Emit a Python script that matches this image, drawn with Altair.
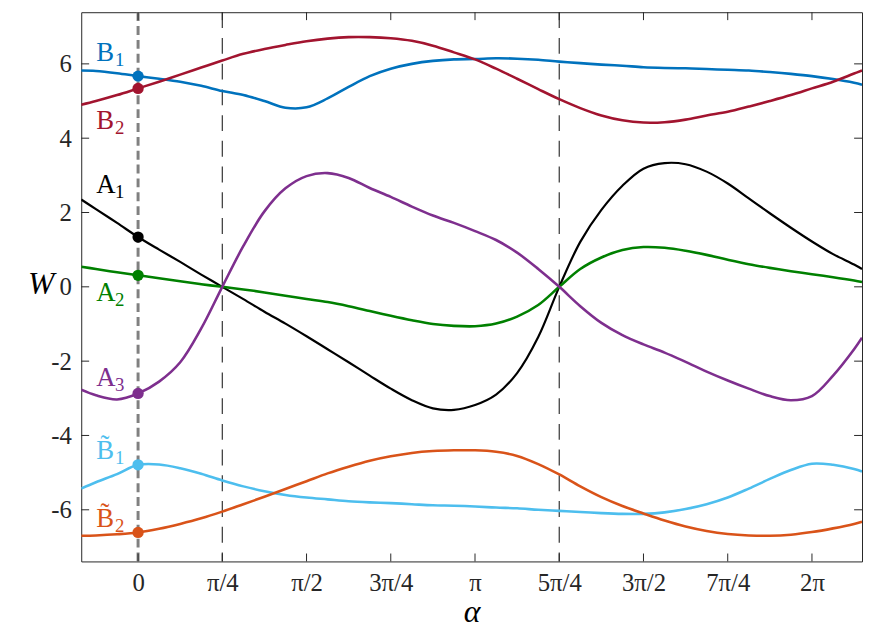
import altair as alt
import pandas as pd
import math

PI = math.pi

# x positions (radians) at which the curves were read
alpha = [-0.53, -0.393, -0.196, 0.0, 0.196, 0.393, 0.589, 0.785, 0.982, 1.178, 1.374,
         1.571, 1.767, 1.963, 2.160, 2.356, 2.553, 2.749, 2.945, 3.142, 3.338, 3.534,
         3.731, 3.927, 4.123, 4.320, 4.516, 4.712, 4.909, 5.105, 5.301, 5.498, 5.694,
         5.890, 6.087, 6.283, 6.480, 6.676, 6.75]

B1 = [5.82, 5.81, 5.75, 5.67, 5.60, 5.52, 5.41, 5.27, 5.16, 5.00, 4.82, 4.83, 5.07,
      5.38, 5.67, 5.87, 6.00, 6.08, 6.12, 6.13, 6.15, 6.14, 6.11, 6.06, 6.02, 5.98,
      5.95, 5.91, 5.89, 5.88, 5.86, 5.84, 5.82, 5.78, 5.73, 5.67, 5.59, 5.49, 5.44]
B2 = [4.90, 5.00, 5.16, 5.34, 5.52, 5.71, 5.90, 6.09, 6.27, 6.40, 6.51, 6.61, 6.68,
      6.72, 6.72, 6.69, 6.62, 6.49, 6.31, 6.12, 5.87, 5.60, 5.32, 5.05, 4.81, 4.61,
      4.48, 4.42, 4.43, 4.50, 4.61, 4.71, 4.85, 5.00, 5.16, 5.34, 5.52, 5.74, 5.82]
A1 = [2.35, 2.09, 1.72, 1.34, 1.00, 0.67, 0.33, 0.00, -0.33, -0.67, -0.99, -1.33, -1.68,
      -2.03, -2.39, -2.74, -3.05, -3.27, -3.31, -3.18, -2.90, -2.32, -1.35, 0.00, 1.21,
      2.07, 2.72, 3.18, 3.33, 3.30, 3.10, 2.78, 2.38, 1.98, 1.59, 1.22, 0.88, 0.60, 0.48]
A2 = [0.54, 0.48, 0.39, 0.31, 0.23, 0.15, 0.07, 0.00, -0.07, -0.15, -0.24, -0.33, -0.41,
      -0.52, -0.65, -0.78, -0.90, -1.00, -1.05, -1.06, -0.99, -0.80, -0.49, 0.00, 0.48,
      0.79, 0.99, 1.07, 1.05, 0.97, 0.86, 0.73, 0.61, 0.51, 0.42, 0.34, 0.26, 0.17, 0.13]
A3 = [-2.77, -2.92, -3.03, -2.87, -2.55, -2.03, -1.12, 0.00, 1.10, 2.03, 2.65, 2.98, 3.06,
      2.93, 2.66, 2.42, 2.16, 1.92, 1.72, 1.50, 1.26, 0.92, 0.48, 0.00, -0.52, -0.97,
      -1.30, -1.55, -1.77, -2.02, -2.28, -2.52, -2.74, -2.94, -3.05, -2.94, -2.39, -1.68, -1.37]
Bt1 = [-5.43, -5.26, -5.04, -4.79, -4.78, -4.88, -5.03, -5.21, -5.37, -5.50, -5.60, -5.67,
       -5.72, -5.77, -5.80, -5.82, -5.85, -5.88, -5.89, -5.91, -5.94, -5.96, -6.00, -6.03,
       -6.06, -6.09, -6.11, -6.11, -6.07, -5.98, -5.85, -5.67, -5.43, -5.17, -4.93, -4.76,
       -4.79, -4.90, -4.97]
Bt2 = [-6.70, -6.69, -6.66, -6.61, -6.51, -6.38, -6.23, -6.05, -5.85, -5.65, -5.44, -5.23,
       -5.02, -4.84, -4.68, -4.56, -4.47, -4.42, -4.40, -4.40, -4.44, -4.55, -4.77, -5.05,
       -5.37, -5.66, -5.90, -6.10, -6.29, -6.45, -6.57, -6.65, -6.69, -6.70, -6.67, -6.60,
       -6.50, -6.38, -6.32]

series_names = ["B1", "B2", "A1", "A2", "A3", "Bt1", "Bt2"]
series_values = [B1, B2, A1, A2, A3, Bt1, Bt2]
series_colors = ["#0072BD", "#A2142F", "#000000", "#008000", "#7E2F8E", "#4DBEEE", "#D95319"]

# curve labels: letter (with combining tilde where needed), subscript, anchor position
label_letter = ["B", "B", "A", "A", "A", "B\u0303", "B\u0303"]
label_sub = ["1", "2", "1", "2", "3", "1", "2"]
label_x = [-0.39, -0.39, -0.39, -0.39, -0.39, -0.39, -0.39]
label_y = [6.28, 4.46, 2.73, -0.18, -2.46, -4.42, -6.25]

x_tick_values = [0, PI / 4, PI / 2, 3 * PI / 4, PI, 5 * PI / 4, 3 * PI / 2, 7 * PI / 4, 2 * PI]
x_tick_labels = ["0", "\u03c0/4", "\u03c0/2", "3\u03c0/4", "\u03c0", "5\u03c0/4", "3\u03c0/2", "7\u03c0/4", "2\u03c0"]
y_tick_values = [-6, -4, -2, 0, 2, 4, 6]
dashed_lines = [PI / 4, 5 * PI / 4]
marker_x = 0.0

FONT = "Liberation Serif"
W, H = 789, 555
XDOM = [-0.53, 6.75]
YDOM = [-7.39, 7.39]

rows = []
for name, vals in zip(series_names, series_values):
    for a, v in zip(alpha, vals):
        rows.append({"alpha": a, "W": v, "series": name})
df = pd.DataFrame(rows)
df_mark = pd.DataFrame({"alpha": [marker_x] * len(series_names),
                        "W": [vals[alpha.index(marker_x)] for vals in series_values],
                        "series": series_names})
df_lab = pd.DataFrame({"letter": label_letter, "sub": label_sub, "alpha": label_x,
                       "W": label_y, "series": series_names})
df_xt = pd.DataFrame({"x": x_tick_values})
df_yt = pd.DataFrame({"y": y_tick_values})
df_dash = pd.DataFrame({"x": dashed_lines})
df_zero = pd.DataFrame({"x": [marker_x]})

xs = alt.Scale(domain=XDOM, nice=False, zero=False)
ys = alt.Scale(domain=YDOM, nice=False, zero=False)
cs = alt.Scale(domain=series_names, range=series_colors)

label_expr = "[" + ",".join("'" + t + "'" for t in x_tick_labels) + "][round(datum.value / (PI / 4))]"

x_axis = alt.Axis(values=x_tick_values, labelExpr=label_expr, ticks=False, domain=False, grid=False,
                  labelFontSize=25, labelFont=FONT, labelColor="#262626", labelPadding=9,
                  title="\u03b1", titleFont=FONT, titleFontSize=32, titleFontStyle="italic",
                  titleFontWeight="normal", titleColor="#000000", titleY=61,
                  titleBaseline="alphabetic")
y_axis = alt.Axis(values=y_tick_values, labelExpr="datum.value + ''", ticks=False, domain=False,
                  grid=False, labelFontSize=25, labelFont=FONT, labelColor="#262626",
                  labelPadding=10, title="W", titleFont=FONT, titleFontSize=32,
                  titleFontStyle="italic", titleFontWeight="normal", titleColor="#000000",
                  titleAngle=0, titleX=-41, titleY=274, titleAlign="center",
                  titleBaseline="middle")

dash = alt.Chart(df_dash).mark_rule(color="#333333", strokeWidth=1.2, strokeDash=[16, 10]).encode(
    x=alt.X("x:Q", scale=xs, axis=x_axis))
zero = alt.Chart(df_zero).mark_rule(color="#808080", strokeWidth=3, strokeDash=[9, 5]).encode(
    x=alt.X("x:Q", scale=xs))

lines = alt.Chart(df).mark_line(interpolate="catmull-rom", clip=True).encode(
    x=alt.X("alpha:Q", scale=xs),
    y=alt.Y("W:Q", scale=ys, axis=y_axis),
    color=alt.Color("series:N", scale=cs, legend=None),
    strokeWidth=alt.condition(alt.datum.series == "A1", alt.value(2.2), alt.value(2.6)),
    detail="series:N",
)
marks = alt.Chart(df_mark).mark_circle(size=130, opacity=1).encode(
    x=alt.X("alpha:Q", scale=xs),
    y=alt.Y("W:Q", scale=ys),
    color=alt.Color("series:N", scale=cs, legend=None),
)
enc_lab = dict(x=alt.X("alpha:Q", scale=xs), y=alt.Y("W:Q", scale=ys),
               color=alt.Color("series:N", scale=cs, legend=None))
lab_main = alt.Chart(df_lab).mark_text(font=FONT, fontSize=27, align="left",
                                       baseline="middle").encode(text="letter:N", **enc_lab)
lab_sub = alt.Chart(df_lab).mark_text(font=FONT, fontSize=19, align="left", baseline="middle",
                                      dx=19, dy=7).encode(text="sub:N", **enc_lab)

tick_col = "#262626"
xt_bot = alt.Chart(df_xt).mark_rule(color=tick_col, strokeWidth=1).encode(
    x=alt.X("x:Q", scale=xs), y=alt.value(H), y2=alt.value(H - 8))
xt_top = alt.Chart(df_xt).mark_rule(color=tick_col, strokeWidth=1).encode(
    x=alt.X("x:Q", scale=xs), y=alt.value(0), y2=alt.value(8))
yt_l = alt.Chart(df_yt).mark_rule(color=tick_col, strokeWidth=1).encode(
    y=alt.Y("y:Q", scale=ys), x=alt.value(0), x2=alt.value(8))
yt_r = alt.Chart(df_yt).mark_rule(color=tick_col, strokeWidth=1).encode(
    y=alt.Y("y:Q", scale=ys), x=alt.value(W), x2=alt.value(W - 8))

chart = alt.layer(dash, zero, lines, marks, lab_main, lab_sub,
                  xt_bot, xt_top, yt_l, yt_r).properties(
    width=W, height=H,
    autosize=alt.AutoSizeParams(type="none"),
    padding={"left": 74, "top": 1, "right": 2, "bottom": 64},
    background="white",
).configure_view(stroke="#262626", strokeWidth=1)

chart.save("out.html", embed_options={"renderer": "svg", "actions": False})
